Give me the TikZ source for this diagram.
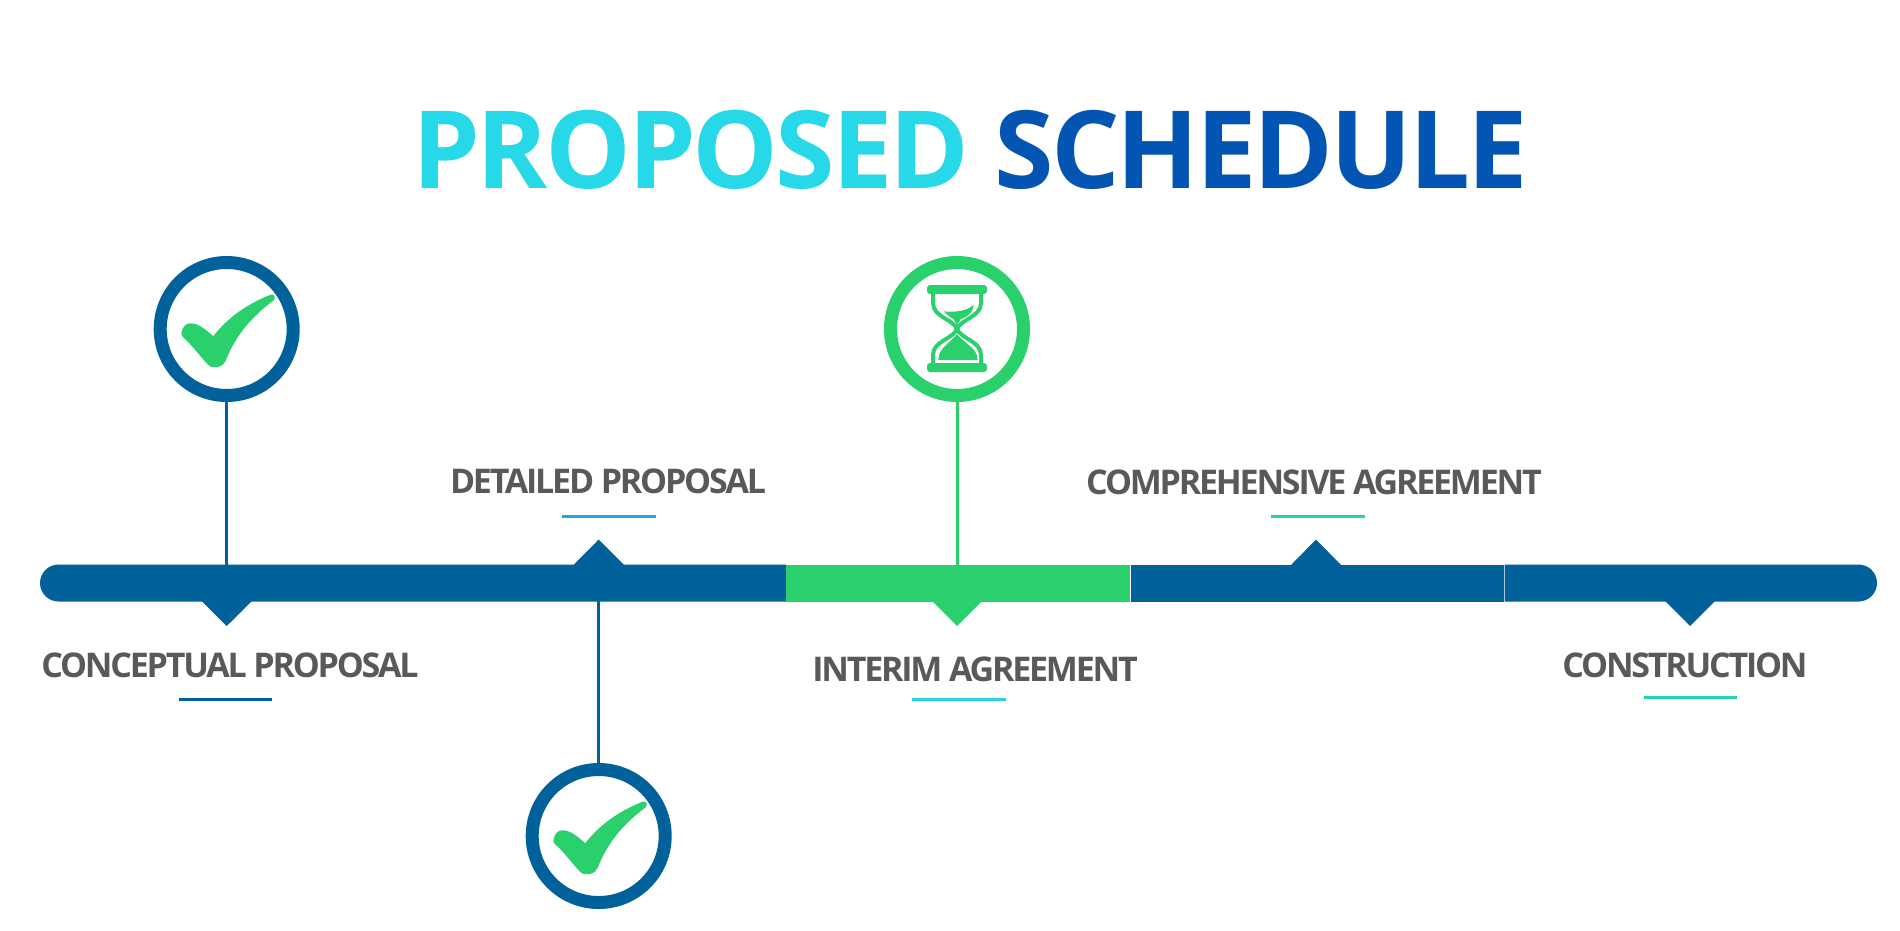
\documentclass[tikz,border=0pt]{standalone}
\usepackage{fontspec}
\setmainfont{Open Sans}
\newfontfamily\titlefont[LetterSpace=-2.8]{Open Sans}
\newfontfamily\labelfont[LetterSpace=-6.5]{Open Sans}
\usetikzlibrary{shadows}
\definecolor{barblue}{HTML}{01619B}
\definecolor{bargreen}{HTML}{29D06C}
\definecolor{titlecyan}{HTML}{27D8E8}
\definecolor{titleblue}{HTML}{0255B3}
\definecolor{labelgray}{HTML}{595959}
\definecolor{skyline}{HTML}{1CA9EA}
\definecolor{tealline}{HTML}{1FD3B4}
\definecolor{cyanline}{HTML}{2AD0E0}
\tikzset{
  ring/.style={circle,draw=#1,fill=white,line width=13pt,minimum size=133pt,inner sep=0pt,
    drop shadow={shadow xshift=2pt,shadow yshift=-2pt,opacity=0.12,fill=black}},
  stem/.style={draw=#1,line width=3pt},
  steplabel/.style={text=labelgray,font=\labelfont\fontsize{34}{34}\selectfont\bfseries,inner sep=0pt,anchor=base},
  rule/.style={draw=#1,line width=3pt},
  tickmark/.pic={
    \filldraw[bargreen,line width=2.5pt,line join=round] (-44,4.5) .. controls (-43,-2) and (-40,-5) .. (-35,-4.5)
      .. controls (-28,-4) and (-20,3) .. (-13.3,9)
      .. controls (3,-12) and (22,-24) .. (44,-33)
      .. controls (47,-34) and (48,-31) .. (46,-29.5)
      .. controls (25,-14) and (8,5) .. (-2,31)
      .. controls (-4,37) and (-14,40) .. (-18.5,34)
      .. controls (-26,26) and (-35,14) .. (-42,8)
      .. controls (-44,7) and (-44,5) .. cycle;
  },
  hourglass/.pic={
    \fill[bargreen,rounded corners=3pt] (-30,-44) rectangle (30,-35);
    \fill[bargreen,rounded corners=3pt] (-30,34) rectangle (30,43);
    \draw[bargreen,line width=4pt] (-24,-35) -- (-24,-26) .. controls (-24,-12) and (-4,-10) .. (0,0)
      .. controls (4,10) and (24,12) .. (24,26) -- (24,34);
    \draw[bargreen,line width=4pt] (24,-35) -- (24,-26) .. controls (24,-12) and (4,-10) .. (0,0)
      .. controls (-4,10) and (-24,12) .. (-24,26) -- (-24,34);
    \filldraw[bargreen,line width=1pt] (-12,-17) .. controls (0,-16) and (10,-18) .. (16,-23)
      .. controls (14,-14) and (8,-12) .. (3,-10) -- (0,-5) -- (-3,-10) .. controls (-6,-12) and (-9,-14) .. cycle;
    \filldraw[bargreen,line width=1pt] (-18,30.5) .. controls (-18,20) and (-9,16) .. (0,6)
      .. controls (9,16) and (20,20) .. (20,30.5) -- cycle;
  },
}
\begin{document}
\begin{tikzpicture}[x=1pt,y=-1pt]
  \useasboundingbox (0,0) rectangle (1900,930);
  % title
  \node[inner sep=0pt,anchor=base,font=\titlefont\fontsize{108}{108}\selectfont\bfseries] (title) at (970,188)
    {\textcolor{titlecyan}{PROPOSED} \textcolor{titleblue}{SCHEDULE}};
  % timeline bar
  \fill[barblue] (786,564.5) -- (58.5,564.5) .. controls (48.3,564.5) and (40,572.8) .. (40,583)
    .. controls (40,593.2) and (48.3,601.5) .. (58.5,601.5) -- (786,601.5) -- cycle;
  \fill[bargreen] (786,564.5) rectangle (1129.5,601.5);
  \fill[barblue] (1130.5,564.5) rectangle (1503.5,601.5);
  \fill[barblue] (1504.5,564.5) -- (1858.5,564.5) .. controls (1868.7,564.5) and (1877,572.8) .. (1877,583)
    .. controls (1877,593.2) and (1868.7,601.5) .. (1858.5,601.5) -- (1504.5,601.5) -- cycle;
  % pointers
  \fill[barblue] (201.5,601) -- (226.7,626) -- (252,601) -- cycle;
  \fill[barblue] (573.5,565) -- (598.7,539.5) -- (624,565) -- cycle;
  \fill[bargreen] (932,601) -- (957,626) -- (982,601) -- cycle;
  \fill[barblue] (1291,565) -- (1316,539.5) -- (1341,565) -- cycle;
  \fill[barblue] (1665,601) -- (1690,626) -- (1715,601) -- cycle;
  % points on the bar
  \coordinate (barconceptual) at (226.7,565);
  \coordinate (bardetailed) at (598.7,601);
  \coordinate (barinterim) at (957,565);
  % rings
  \node[ring=barblue] (ringconceptual) at (226.7,329) {};
  \node[ring=barblue] (ringdetailed) at (598.7,836) {};
  \node[ring=bargreen] (ringinterim) at (957,329) {};
  \draw[stem=barblue] (ringconceptual) -- (barconceptual);
  \draw[stem=barblue] (ringdetailed) -- (bardetailed);
  \draw[stem=bargreen] (ringinterim) -- (barinterim);
  \pic at (226.7,329) {tickmark};
  \pic at (598.7,836) {tickmark};
  \pic at (957,329) {hourglass};
  % labels
  \node[steplabel] (conceptual) at (230,677) {CONCEPTUAL PROPOSAL};
  \node[steplabel] (detailed) at (608,493) {DETAILED PROPOSAL};
  \node[steplabel] (interim) at (975,681) {INTERIM AGREEMENT};
  \node[steplabel] (comprehensive) at (1314,494.5) {COMPREHENSIVE AGREEMENT};
  \node[steplabel] (construction) at (1685,677.5) {CONSTRUCTION};
  % rules under the labels
  \draw[rule=barblue] (178.7,699) -- (272,699);
  \draw[rule=skyline] (561.5,516) -- (655.5,516);
  \draw[rule=cyanline] (912,699) -- (1006,699);
  \draw[rule=tealline] (1271,516) -- (1365,516);
  \draw[rule=tealline] (1644,697) -- (1737,697);
\end{tikzpicture}
\end{document}
